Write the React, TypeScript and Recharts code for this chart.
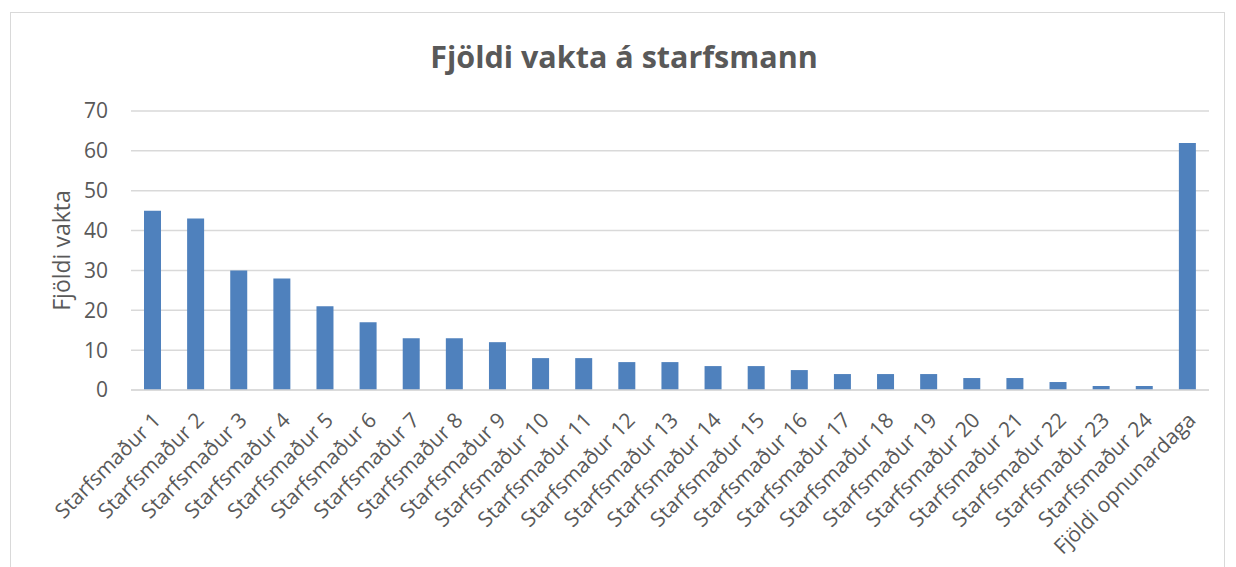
import { Bar, BarChart, CartesianGrid, XAxis, YAxis } from "recharts";

const categories = [
  "Starfsmaður 1",
  "Starfsmaður 2",
  "Starfsmaður 3",
  "Starfsmaður 4",
  "Starfsmaður 5",
  "Starfsmaður 6",
  "Starfsmaður 7",
  "Starfsmaður 8",
  "Starfsmaður 9",
  "Starfsmaður 10",
  "Starfsmaður 11",
  "Starfsmaður 12",
  "Starfsmaður 13",
  "Starfsmaður 14",
  "Starfsmaður 15",
  "Starfsmaður 16",
  "Starfsmaður 17",
  "Starfsmaður 18",
  "Starfsmaður 19",
  "Starfsmaður 20",
  "Starfsmaður 21",
  "Starfsmaður 22",
  "Starfsmaður 23",
  "Starfsmaður 24",
  "Fjöldi opnunardaga",
];

const shifts = [45, 43, 30, 28, 21, 17, 13, 13, 12, 8, 8, 7, 7, 6, 6, 5, 4, 4, 4, 3, 3, 2, 1, 1, 62];

const yTicks = [0, 10, 20, 30, 40, 50, 60, 70];

const data = categories.map((name, i) => ({ name, value: shifts[i] }));

const FONT = "'Open Sans', 'Noto Sans', sans-serif";
const TEXT = "#595959";

function RotatedTick(props: any) {
  const { x, y, payload } = props;
  return (
    <g transform={`translate(${x + 1},${y + 15})`}>
      <text
        x={0}
        y={0}
        dy={12}
        textAnchor="end"
        transform="rotate(-45)"
        fill={TEXT}
        fontSize={21}
        fontFamily={FONT}
      >
        {payload.value}
      </text>
    </g>
  );
}

function AxisTitle(props: any) {
  const { viewBox } = props;
  const cy = viewBox.y + viewBox.height / 2;
  return (
    <text
      x={70}
      y={cy}
      transform={`rotate(-90, 70, ${cy})`}
      textAnchor="middle"
      fill={TEXT}
      fontSize={23}
      fontFamily={FONT}
    >
      Fjöldi vakta
    </text>
  );
}

export default function App() {
  return (
    <div
      style={{
        position: "fixed",
        left: 0,
        top: 0,
        width: 1236,
        height: 567,
        background: "#ffffff",
        overflow: "hidden",
      }}
    >
      <div
        style={{
          position: "absolute",
          left: 10,
          top: 12,
          width: 1215,
          height: 600,
          border: "1px solid #d9d9d9",
          boxSizing: "border-box",
        }}
      />
      <div
        style={{
          position: "absolute",
          left: 6,
          top: 35,
          width: 1236,
          textAlign: "center",
          fontFamily: FONT,
          fontWeight: 700,
          fontSize: 30.5,
          color: TEXT,
        }}
      >
        Fjöldi vakta á starfsmann
      </div>
      <div style={{ position: "absolute", left: 0, top: 0 }}>
        <BarChart
          width={1236}
          height={567}
          data={data}
          margin={{ top: 111, right: 27, bottom: 0, left: 0 }}
        >
          <CartesianGrid vertical={false} stroke="#d9d9d9" strokeWidth={1.5} />
          <XAxis
            dataKey="name"
            interval={0}
            tickLine={false}
            axisLine={{ stroke: "#d9d9d9", strokeWidth: 1.5 }}
            tick={<RotatedTick />}
            height={177}
          />
          <YAxis
            width={131}
            domain={[0, 70]}
            ticks={yTicks}
            tickLine={false}
            axisLine={false}
            tickMargin={17}
            tick={{ fill: TEXT, fontSize: 21, fontFamily: FONT }}
            label={<AxisTitle />}
          />
          <Bar dataKey="value" fill="#4f81bd" barSize={17} isAnimationActive={false} />
        </BarChart>
      </div>
    </div>
  );
}
